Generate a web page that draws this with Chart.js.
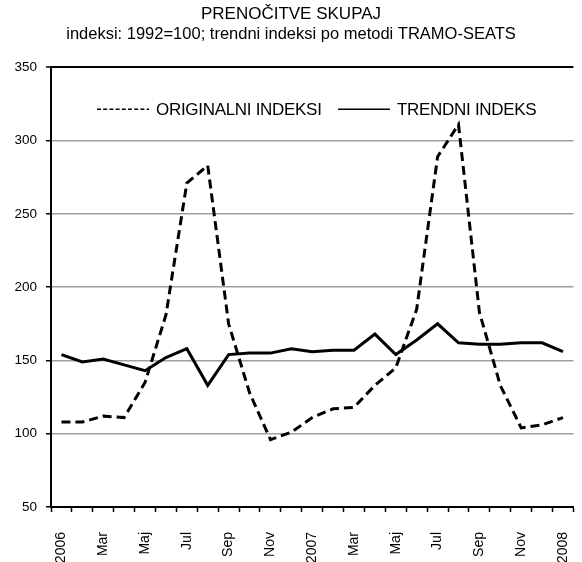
<!DOCTYPE html>
<html>
<head>
<meta charset="utf-8">
<script src="https://cdn.jsdelivr.net/npm/chart.js@4"></script>
<style>
  html, body { margin: 0; padding: 0; background: #fff; overflow: hidden; }
  #wrap { width: 582px; height: 562px; overflow: hidden; }
  #box { width: 600px; height: 562px; }
</style>
</head>
<body>
<div id="wrap"><div id="box"><canvas id="myChart"></canvas></div></div>
<script>
// Months Jan 2006 - Jan 2008, label every second month
const months = ["2006", "", "Mar", "", "Maj", "", "Jul", "", "Sep", "", "Nov", "",
                "2007", "", "Mar", "", "Maj", "", "Jul", "", "Sep", "", "Nov", "", "2008"];

// Original indices (1992=100)
const originalValues = [108, 108, 112, 111, 135, 181, 271, 283, 175, 128, 96, 101,
                        111, 117, 118, 133, 145, 185, 289, 311, 183, 133, 104, 106, 111];

// Trend indices (TRAMO-SEATS)
const trendValues = [154, 149, 151, 147, 143, 152, 158, 133, 154, 155, 155, 158,
                     156, 157, 157, 168, 154, 164, 175, 162, 161, 161, 162, 162, 156];

const yTicks = [50, 100, 150, 200, 250, 300, 350];

const seriesNames = ["ORIGINALNI INDEKSI", "TRENDNI INDEKS"];
const mainTitle = "PRENOČITVE SKUPAJ";
const subTitle = "indeksi: 1992=100; trendni indeksi po metodi TRAMO-SEATS";

const fontFamily = "'Liberation Sans', Arial, sans-serif";

// Legend drawn inside the plot area, like the original
const innerLegend = {
  id: "innerLegend",
  afterDraw(chart) {
    const c = chart.ctx;
    const area = chart.chartArea;
    const y = area.top + 42;
    const items = [
      { x: area.left + 46, dash: [4, 2.2], name: seriesNames[0] },
      { x: area.left + 287, dash: [], name: seriesNames[1] },
    ];
    c.save();
    c.font = "17px " + fontFamily;
    c.letterSpacing = "-0.3px";
    c.fillStyle = "#000";
    c.textBaseline = "middle";
    items.forEach((it) => {
      c.beginPath();
      c.setLineDash(it.dash);
      c.lineWidth = 1.5;
      c.strokeStyle = "#000";
      c.moveTo(it.x, y);
      c.lineTo(it.x + 52, y);
      c.stroke();
      c.fillText(it.name, it.x + 59, y + 1);
    });
    c.restore();
  },
};

const ctx = document.getElementById("myChart").getContext("2d");
const chart = new Chart(ctx, {
  type: "line",
  data: {
    labels: months,
    datasets: [
      {
        label: seriesNames[0],
        data: originalValues,
        borderColor: "#000",
        borderWidth: 3,
        borderDash: [9, 5],
        pointRadius: 0,
        tension: 0,
      },
      {
        label: seriesNames[1],
        data: trendValues,
        borderColor: "#000",
        borderWidth: 3,
        pointRadius: 0,
        tension: 0,
      },
    ],
  },
  options: {
    responsive: true,
    maintainAspectRatio: false,
    animation: false,
    layout: { padding: { left: -7, right: 11, top: 0, bottom: 0 } },
    plugins: {
      legend: { display: false },
      tooltip: { enabled: false },
      title: {
        display: true,
        text: mainTitle,
        color: "#000",
        font: { family: fontFamily, size: 17, weight: "normal", lineHeight: 1.15 },
        padding: { top: 5, bottom: 0 },
      },
      subtitle: {
        display: true,
        text: subTitle,
        color: "#000",
        font: { family: fontFamily, size: 16.5, weight: "normal", lineHeight: 1.2 },
        padding: { top: 0, bottom: 23 },
      },
    },
    scales: {
      x: {
        offset: true,
        grid: {
          offset: true,
          drawOnChartArea: false,
          tickLength: 5,
          tickColor: "#000",
          tickWidth: 1.5,
        },
        border: { color: "#000", width: 2 },
        ticks: {
          autoSkip: false,
          maxRotation: 90,
          minRotation: 90,
          padding: 20,
          color: "#000",
          font: { family: fontFamily, size: 14 },
        },
        afterFit(scale) { scale.height = 55; },
      },
      y: {
        min: 50,
        max: 350,
        afterBuildTicks(scale) { scale.ticks = yTicks.map((v) => ({ value: v })); },
        grid: {
          color: (c) => (c.tick && (c.tick.value === 350 || c.tick.value === 50) ? "#000" : "#a0a0a0"),
          lineWidth: (c) => (c.tick && c.tick.value === 350 ? 2 : 1.5),
          tickLength: 5,
          tickColor: "#000",
          tickWidth: 1.5,
        },
        border: { color: "#000", width: 2 },
        ticks: {
          padding: 9,
          color: "#000",
          font: { family: fontFamily, size: 13.5 },
        },
        afterFit(scale) { scale.width = 58; },
      },
    },
  },
  plugins: [innerLegend],
});
</script>
</body>
</html>
